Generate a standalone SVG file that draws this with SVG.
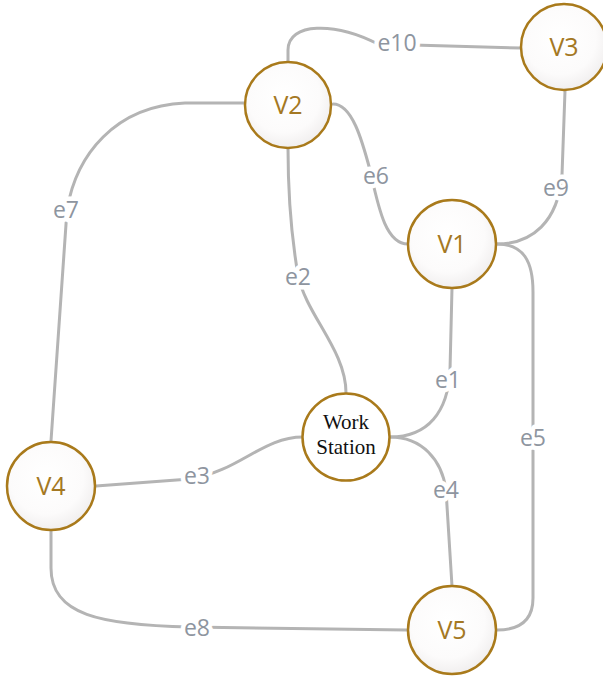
<svg xmlns="http://www.w3.org/2000/svg" width="603" height="677" viewBox="0 0 603 677">
<defs>
<radialGradient id="nodeFill" cx="45%" cy="40%" r="60%">
<stop offset="0" stop-color="#ffffff"/>
<stop offset="0.7" stop-color="#fcfbfb"/>
<stop offset="1" stop-color="#f1efef"/>
</radialGradient>
<style>
.edge{fill:none;stroke:#b4b4b4;stroke-width:3;stroke-linecap:round}
.elabel{font-family:"Open Sans","Noto Sans",sans-serif;font-size:23px;fill:#8e959f;text-anchor:middle;stroke:#ffffff;stroke-width:9;paint-order:stroke;stroke-linejoin:round}
.node circle{fill:url(#nodeFill);stroke:#a97a1b;stroke-width:2.5}
.nlabel{font-family:"Open Sans","Noto Sans",sans-serif;font-size:25px;fill:#a47823;text-anchor:middle}
.ws{font-family:"Liberation Serif","DejaVu Serif",serif;font-size:21px;fill:#111;text-anchor:middle}
</style>
</defs>
<rect width="603" height="677" fill="#ffffff"/>
<g id="connectors">
<path class="edge" d="M288,61 L288,50 C288,22 335,22 378,44 L521,48"/>
<path class="edge" d="M333,104 C352,104 362,140 370,170 C378,205 385,244 408,244"/>
<path class="edge" d="M565,91 L562,175 C558,222 532,244 497,244"/>
<path class="edge" d="M245,103 L185,103 C115,106 76,155 67,210 L51,441"/>
<path class="edge" d="M288,148 C288,200 292,240 298,275 C306,315 346,350 346,393"/>
<path class="edge" d="M452,288 L450,370 C448,412 428,437 390,437"/>
<path class="edge" d="M390,437 C422,437 442,460 446,490 L452,586"/>
<path class="edge" d="M497,244 C524,244 533,262 533,292 L533,598 C533,620 520,630 497,630"/>
<path class="edge" d="M96,486 L190,479 C240,471 262,437 303,437"/>
<path class="edge" d="M51,530 L51,568 C51,615 100,625 190,627 L407,630"/>
<text class="elabel" x="397" y="51">e10</text>
<text class="elabel" x="376" y="184">e6</text>
<text class="elabel" x="556" y="196">e9</text>
<text class="elabel" x="66" y="218">e7</text>
<text class="elabel" x="298" y="285">e2</text>
<text class="elabel" x="448" y="388">e1</text>
<text class="elabel" x="446" y="498">e4</text>
<text class="elabel" x="533" y="446">e5</text>
<text class="elabel" x="197" y="484">e3</text>
<text class="elabel" x="197" y="636">e8</text>
</g>
<g id="V2" class="node"><circle cx="288" cy="105" r="43"/><text class="nlabel" x="288" y="114">V2</text></g>
<g id="V3" class="node"><circle cx="564" cy="47" r="43"/><text class="nlabel" x="564" y="56">V3</text></g>
<g id="V1" class="node"><circle cx="452" cy="244" r="44"/><text class="nlabel" x="452" y="253">V1</text></g>
<g id="V4" class="node"><circle cx="51" cy="486" r="44"/><text class="nlabel" x="51" y="495">V4</text></g>
<g id="V5" class="node"><circle cx="452" cy="630" r="44"/><text class="nlabel" x="452" y="639">V5</text></g>
<g id="WorkStation" class="node"><circle cx="346" cy="437" r="43.5" style="fill:#ffffff"/><text class="ws" x="346" y="429">Work</text><text class="ws" x="346" y="454">Station</text></g>
</svg>
